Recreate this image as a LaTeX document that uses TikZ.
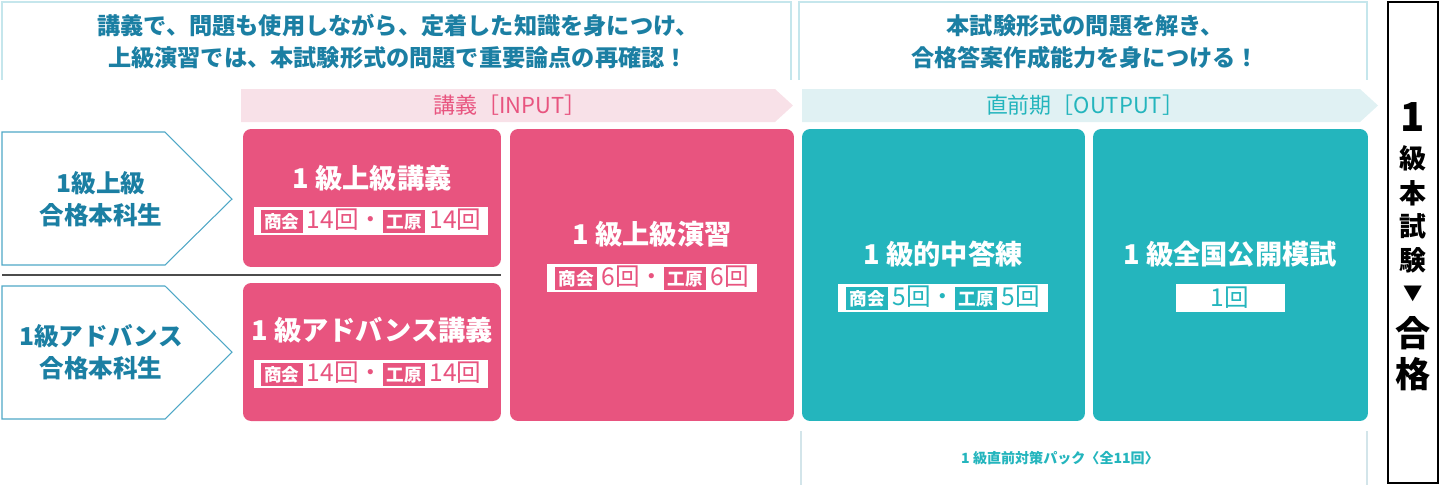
\documentclass[tikz,border=0pt]{standalone}
\usepackage{fontspec}
\setmainfont{Noto Sans CJK JP}
\usepackage{xcolor}
\usepackage{tikz}
\definecolor{lecturecolor}{HTML}{E8547F}
\definecolor{lecturelight}{HTML}{F8E1E8}
\definecolor{outputcolor}{HTML}{24B5BD}
\definecolor{outputlight}{HTML}{E0F1F3}
\definecolor{headcolor}{HTML}{1B7FA3}
\definecolor{entryline}{HTML}{4FA7C6}
\definecolor{framecolor}{HTML}{C5E6EC}
\definecolor{packline}{HTML}{D3E5EA}
\newcommand{\tagmark}[2]{{\setlength{\fboxsep}{2pt}\colorbox{#1}{\textcolor{white}{\fontsize{10}{10}\selectfont\bfseries #2}}}}

\tikzset{
  lecbox/.style={fill=lecturecolor, rounded corners=0.16cm, inner sep=0pt},
  outbox/.style={fill=outputcolor, rounded corners=0.16cm, inner sep=0pt},
  boxtitle/.style={text=white, inner sep=0pt, font=\fontsize{15.5}{18}\selectfont\bfseries},
  countbar/.style={fill=white, inner sep=0pt, minimum height=0.56cm, font=\fontsize{14}{14}\selectfont},
  entrytext/.style={text=headcolor, inner sep=0pt, align=center, font=\fontsize{14}{18}\selectfont\bfseries},
  goaltext/.style={inner sep=0pt, font=\fontsize{15.3}{15.3}\selectfont\bfseries},
}

\begin{document}
\begin{tikzpicture}[x=0.02cm, y=-0.02cm]%
\useasboundingbox (0,0) rectangle (1440,485);%
% top frames
\draw[framecolor, line width=0.6pt] (2,80) -- (2,2) -- (791,2) -- (791,80);%
\draw[framecolor, line width=0.6pt] (799,80) -- (799,2) -- (1367,2) -- (1367,80);%
\node[text=headcolor, inner sep=0pt, align=center, font=\fontsize{13.2}{18.2}\selectfont\bfseries] (leftLead) at (398,42) {講義で、問題も使用しながら、定着した知識を身につけ、\\上級演習では、本試験形式の問題で重要論点の再確認！};%
\node[text=headcolor, inner sep=0pt, align=center, font=\fontsize{13.2}{18.2}\selectfont\bfseries] (rightLead) at (1085,42) {本試験形式の問題を解き、\\合格答案作成能力を身につける！};%
% banners
\fill[lecturelight] (241,89) -- (775,89) -- (793,105.5) -- (775,122) -- (241,122) -- cycle;%
\fill[outputlight] (802,89) -- (1360,89) -- (1378,105.5) -- (1360,122) -- (802,122) -- cycle;%
\node[text=lecturecolor, inner sep=0pt, font=\fontsize{12.5}{12.5}\selectfont] (inputTag) at (510,105) {講義［INPUT］};%
\node[text=outputcolor, inner sep=0pt, font=\fontsize{12.5}{12.5}\selectfont] (outputTag) at (1085,105) {直前期［OUTPUT］};%
% entry arrows
\draw[entryline, line width=0.6pt] (2,132) -- (165,132) -- (232,199) -- (165,265) -- (2,265) -- cycle;%
\draw[entryline, line width=0.6pt] (2,286) -- (165,286) -- (232,352) -- (165,419) -- (2,419) -- cycle;%
\node[entrytext] (upperEntry) at (101,199) {1級上級\\合格本科生};%
\node[entrytext] (advEntry) at (101,352) {1級アドバンス\\合格本科生};%
\draw[black!70, line width=0.6pt] (2,275) -- (501,275);%
% lecture boxes
\node[lecbox, minimum width=5.16cm, minimum height=2.76cm] (upperLec) at (372,198) {};%
\node[boxtitle] (upperTitle) at (372,178) {1 級上級講義};%
\node[countbar, minimum width=4.68cm, text=lecturecolor] (upperCount) at (371,221) {\tagmark{lecturecolor}{商会}\,14回・\tagmark{lecturecolor}{工原}\,14回};%
\node[lecbox, minimum width=5.16cm, minimum height=2.76cm] (advLec) at (372,352) {};%
\node[boxtitle] (advTitle) at (372,330) {1 級アドバンス講義};%
\node[countbar, minimum width=4.68cm, text=lecturecolor] (advCount) at (371,374) {\tagmark{lecturecolor}{商会}\,14回・\tagmark{lecturecolor}{工原}\,14回};%
\node[lecbox, minimum width=5.68cm, minimum height=5.84cm] (drillLec) at (652,275) {};%
\node[boxtitle] (drillTitle) at (652,234) {1 級上級演習};%
\node[countbar, minimum width=4.22cm, text=lecturecolor] (drillCount) at (652,278) {\tagmark{lecturecolor}{商会}\,6回・\tagmark{lecturecolor}{工原}\,6回};%
% output boxes
\node[outbox, minimum width=5.66cm, minimum height=5.84cm] (answerBox) at (943.5,275) {};%
\node[boxtitle] (answerTitle) at (943,254) {1 級的中答練};%
\node[countbar, minimum width=4.2cm, text=outputcolor] (answerCount) at (943,298) {\tagmark{outputcolor}{商会}\,5回・\tagmark{outputcolor}{工原}\,5回};%
\node[outbox, minimum width=5.5cm, minimum height=5.84cm] (mockBox) at (1230.5,275) {};%
\node[boxtitle] (mockTitle) at (1230,254) {1 級全国公開模試};%
\node[countbar, minimum width=2.18cm, text=outputcolor] (mockCount) at (1230,298) {1回};%
% pack bracket
\draw[packline, line width=0.6pt] (801,431) -- (801,485);%
\draw[packline, line width=0.6pt] (1367,431) -- (1367,485);%
\node[text=outputcolor, inner sep=0pt, font=\fontsize{8}{8}\selectfont\bfseries] (packNote) at (1060,458) {1 級直前対策パック〈全11回〉};%
% goal column
\draw[black, line width=0.8pt] (1388,2) rectangle (1438,483);%
\node[goaltext, font=\fontsize{22.7}{22.7}\selectfont\bfseries] (goalOne) at (1413,117) {1};%
\node[goaltext] (goalA) at (1413,158) {級};%
\node[goaltext] (goalB) at (1413,193) {本};%
\node[goaltext] (goalC) at (1413,226) {試};%
\node[goaltext] (goalD) at (1413,260) {験};%
\node[goaltext, font=\fontsize{11}{11}\selectfont] (goalMark) at (1413,294) {▼};%
\node[goaltext, font=\fontsize{20}{20}\selectfont\bfseries] (goalE) at (1413,333) {合};%
\node[goaltext, font=\fontsize{20}{20}\selectfont\bfseries] (goalF) at (1413,374) {格};%
\end{tikzpicture}
\end{document}
